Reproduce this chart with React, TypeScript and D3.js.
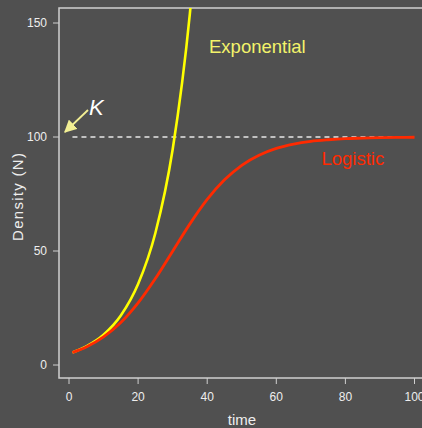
import React from "react";
import * as d3 from "d3";

// Population density over time: exponential vs logistic growth toward carrying capacity K
const timeLogistic = [1, 5, 10, 15, 20, 25, 30, 35, 40, 45, 50, 55, 60, 65, 70, 75, 80, 85, 90, 95, 100];
const densityLogistic = [5.5, 7.9, 12.3, 18.6, 27.2, 37.9, 49.9, 61.9, 72.6, 81.2, 87.6, 92.0, 95.0, 96.9, 98.1, 98.8, 99.3, 99.5, 99.7, 99.8, 99.9];

const timeExponential = [1, 5, 10, 15, 20, 25, 30, 35, 37];
const densityExponential = [5.5, 8.2, 13.3, 21.7, 35.5, 57.9, 94.5, 154.3, 187.8];

const carryingCapacity = 100;
const capacitySpan = [1, 100];

const xTicks = [0, 20, 40, 60, 80, 100];
const yTicks = [0, 50, 100, 150];

const W = 422;
const H = 428;
const box = { left: 59, top: 8, right: 425, bottom: 378 };

const BG = "#505050";
const AXIS = "#cfcfcf";
const TEXT = "#eeeeee";
const RED = "#ff2a00";
const YELLOW = "#ffff00";
const FONT = "'Liberation Sans', Arial, Helvetica, sans-serif";

export default function App() {
  const x = d3.scaleLinear().domain([0, 100]).range([69, 414.5]);
  const y = d3.scaleLinear().domain([0, 150]).range([365, 23]);

  const line = d3
    .line<[number, number]>()
    .x((d) => x(d[0]))
    .y((d) => y(d[1]))
    .curve(d3.curveMonotoneX);

  const logisticPath = line(timeLogistic.map((t, i) => [t, densityLogistic[i]]) as [number, number][]) || "";
  const expPath = line(timeExponential.map((t, i) => [t, densityExponential[i]]) as [number, number][]) || "";

  return (
    <svg
      width={W}
      height={H}
      style={{ position: "fixed", left: 0, top: 0, display: "block", background: BG }}
    >
      <defs>
        <clipPath id="plotClip">
          <rect x={box.left} y={box.top} width={box.right - box.left} height={box.bottom - box.top} />
        </clipPath>
        <marker id="arrowHead" viewBox="0 0 10 10" refX="9" refY="5" markerWidth="7" markerHeight="7" orient="auto">
          <path d="M0,0 L10,5 L0,10 z" fill="#f2ef94" />
        </marker>
      </defs>
      <rect x={0} y={0} width={W} height={H} fill={BG} />

      {/* plot frame */}
      <rect
        x={box.left}
        y={box.top}
        width={box.right - box.left}
        height={box.bottom - box.top}
        fill="none"
        stroke={AXIS}
        strokeWidth={1.5}
      />

      {/* y axis */}
      {yTicks.map((v) => (
        <g key={"y" + v}>
          <line x1={box.left - 6} x2={box.left} y1={y(v)} y2={y(v)} stroke={AXIS} strokeWidth={1} />
          <text
            x={box.left - 12}
            y={y(v)}
            dy="0.35em"
            textAnchor="end"
            fill={TEXT}
            fontSize={12}
            fontFamily={FONT}
          >
            {v}
          </text>
        </g>
      ))}

      {/* x axis */}
      {xTicks.map((v) => (
        <g key={"x" + v}>
          <line x1={x(v)} x2={x(v)} y1={box.bottom} y2={box.bottom + 6} stroke={AXIS} strokeWidth={1} />
          <text
            x={x(v)}
            y={397}
            dy="0.35em"
            textAnchor="middle"
            fill={TEXT}
            fontSize={12}
            fontFamily={FONT}
          >
            {v}
          </text>
        </g>
      ))}

      <text x={242} y={425} textAnchor="middle" fill={TEXT} fontSize={15} fontFamily={FONT}>
        time
      </text>
      <text
        transform={`translate(23,197) rotate(-90)`}
        textAnchor="middle"
        fill={TEXT}
        fontSize={15}
        fontFamily={FONT}
        textLength={88}
        lengthAdjust="spacing"
      >
        Density (N)
      </text>

      {/* carrying capacity */}
      <line
        x1={x(capacitySpan[0])}
        x2={x(capacitySpan[1])}
        y1={y(carryingCapacity)}
        y2={y(carryingCapacity)}
        stroke="#e6e6e6"
        strokeWidth={1.3}
        strokeDasharray="5,4"
      />

      <g clipPath="url(#plotClip)">
        <path d={expPath} fill="none" stroke={YELLOW} strokeWidth={2.6} />
        <path d={logisticPath} fill="none" stroke={RED} strokeWidth={2.8} />
      </g>

      {/* K annotation */}
      <line x1={88} y1={110} x2={65} y2={132} stroke="#f2ef94" strokeWidth={1.8} markerEnd="url(#arrowHead)" />
      <text x={89} y={114.5} fill="#ffffff" fontSize={22} fontStyle="italic" fontFamily={FONT}>
        K
      </text>

      <text x={209} y={53} fill="#f3f36a" fontSize={18.5} fontFamily={FONT}>
        Exponential
      </text>
      <text x={321.5} y={165} fill={RED} fontSize={18.5} fontFamily={FONT}>
        Logistic
      </text>
    </svg>
  );
}
